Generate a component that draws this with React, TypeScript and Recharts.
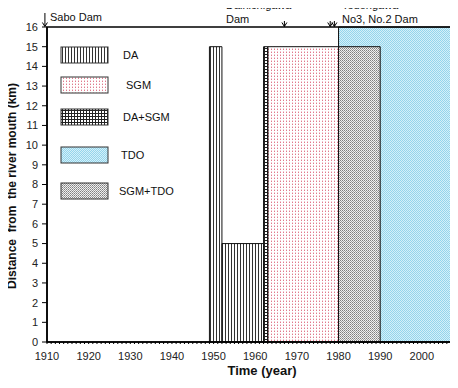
import {
  ComposedChart,
  XAxis,
  YAxis,
  ReferenceArea,
  ReferenceDot,
  Legend,
  Label,
} from "recharts";

// periods of each sediment-control measure along the river (drawn in this order)
const zoneNames = ["TDO", "SGM", "SGM+TDO", "DA", "DA", "DA+SGM"];
const zoneFrom = [1980, 1963, 1980, 1949, 1952, 1962];
const zoneTo = [2007, 1980, 1990, 1952, 1962, 1963];
const zoneReach = [16, 15, 15, 15, 5, 15];

const legendNames = ["DA", "SGM", "DA+SGM", "TDO", "SGM+TDO"];

const damLabels = [["Sabo Dam"], ["Dainichigawa", "Dam"], ["Tedorigawa", "No3, No.2 Dam"]];
const damYears = [[1909.5], [1967], [1978, 1979]];

const decadeTicks = [1910, 1920, 1930, 1940, 1950, 1960, 1970, 1980, 1990, 2000];
const distanceTicks = [0, 1, 2, 3, 4, 5, 6, 7, 8, 9, 10, 11, 12, 13, 14, 15, 16];
const yearTicks = Array.from({ length: 97 }, (_, i) => 1910 + i);

const FONT = "'Liberation Sans', Arial, sans-serif";

const PATTERN: Record<string, string> = {
  DA: "url(#pat-da)",
  SGM: "url(#pat-sgm)",
  "DA+SGM": "url(#pat-dasgm)",
  TDO: "url(#pat-tdo)",
  "SGM+TDO": "url(#pat-sgmtdo)",
};

// label placement for the dam annotations (page pixels)
const damLabelX = [50, 226, 342];
const damLabelBase = [20.5, 9, 9];
const damArrowLen = [14, 6, 6];

const legendRowY = [12, 42, 74, 112, 148];
const legendTextX = [73, 76, 73, 71, 69];

function Patterns() {
  return (
    <svg width={0} height={0} style={{ position: "absolute" }}>
      <defs>
        <pattern id="pat-da" width={3} height={3} patternUnits="userSpaceOnUse">
          <rect width={3} height={3} fill="#fff" />
          <rect x={0} width={1} height={3} fill="#333" />
        </pattern>
        <pattern id="pat-sgm" width={3} height={3} patternUnits="userSpaceOnUse">
          <rect width={3} height={3} fill="#fff" />
          <rect x={1} y={1} width={1} height={1} fill="#e07a8c" />
          <rect x={1} y={0} width={1} height={1} fill="#f3c8d0" />
        </pattern>
        <pattern id="pat-dasgm" width={3} height={3} patternUnits="userSpaceOnUse">
          <rect width={3} height={3} fill="#fff" />
          <rect x={0} width={1} height={3} fill="#222" />
          <rect y={0} width={3} height={1} fill="#222" />
        </pattern>
        <pattern id="pat-tdo" width={2} height={2} patternUnits="userSpaceOnUse">
          <rect width={2} height={2} fill="#d4f0f9" />
          <rect x={0} y={0} width={1} height={1} fill="#94d5ec" />
          <rect x={1} y={1} width={1} height={1} fill="#94d5ec" />
        </pattern>
        <pattern id="pat-sgmtdo" width={2} height={2} patternUnits="userSpaceOnUse">
          <rect width={2} height={2} fill="#f0f0f0" />
          <rect x={0} y={0} width={1} height={1} fill="#808080" />
          <rect x={1} y={1} width={1} height={1} fill="#a0a0a0" />
        </pattern>
      </defs>
    </svg>
  );
}

const XTick = (props: any) => {
  const { x, y, payload } = props;
  if (!decadeTicks.includes(payload.value)) return <g />;
  return (
    <text x={x} y={y} dy="0.71em" textAnchor="middle" fontSize={11} fill="#222" fontFamily={FONT}>
      {payload.value}
    </text>
  );
};

const LegendBox = () => (
  <svg width={130} height={175}>
    {legendNames.map((name, i) => (
      <g key={name}>
        <rect x={11} y={legendRowY[i]} width={47} height={16} fill={PATTERN[name]} stroke="#333" strokeWidth={1} />
        <text x={legendTextX[i]} y={legendRowY[i] + 12} fontSize={11} fill="#111" fontFamily={FONT}>
          {name}
        </text>
      </g>
    ))}
  </svg>
);

export default function App() {
  const chartData = zoneFrom.map((f, i) => ({ year: f, reach: zoneReach[i] }));

  return (
    <div style={{ marginTop: -8, marginLeft: -8, position: "relative" }}>
      <Patterns />
      <ComposedChart
        width={458}
        height={388}
        data={chartData}
        margin={{ top: 27, right: 7, bottom: 16, left: 7 }}
        style={{ fontFamily: FONT, overflow: "visible" }}
      >
        <XAxis
          dataKey="year"
          type="number"
          domain={[1910, 2007]}
          ticks={yearTicks}
          interval={0}
          tick={<XTick />}
          tickSize={2}
          tickMargin={8}
          height={30}
          axisLine={{ stroke: "#000", strokeWidth: 1.5 }}
          tickLine={{ stroke: "#000" }}
          allowDataOverflow
        >
          <Label
            value="Time (year)"
            content={() => (
              <text x={262} y={375} textAnchor="middle" fontSize={13} fontWeight="bold" fill="#111" fontFamily={FONT}>
                Time (year)
              </text>
            )}
          />
        </XAxis>
        <YAxis
          type="number"
          domain={[0, 16]}
          ticks={distanceTicks}
          interval={0}
          width={40}
          tickSize={5}
          tickMargin={4}
          tick={{ fontSize: 11, fill: "#222", fontFamily: FONT }}
          axisLine={{ stroke: "#000", strokeWidth: 1.5 }}
          tickLine={{ stroke: "#000" }}
          allowDataOverflow
        >
          <Label
            value="Distance from the river mouth (km)"
            content={() => (
              <text
                x={12}
                y={186}
                transform="rotate(-90, 12, 186)"
                textAnchor="middle"
                dominantBaseline="central"
                fontSize={12}
                fontWeight="bold"
                fill="#111"
                fontFamily={FONT}
                style={{ whiteSpace: "pre" }}
              >
                {"Distance  from  the river mouth (km)"}
              </text>
            )}
          />
        </YAxis>

        {zoneNames.map((name, i) => (
          <ReferenceArea
            key={`zone-${i}`}
            x1={zoneFrom[i]}
            x2={zoneTo[i]}
            y1={0}
            y2={zoneReach[i]}
            fill={PATTERN[name]}
            fillOpacity={1}
            stroke="#111"
            strokeWidth={1}
            ifOverflow="visible"
          />
        ))}

        {/* plot frame */}
        <ReferenceArea x1={1910} x2={2007} y1={0} y2={16} fill="none" stroke="#000" strokeWidth={1.5} />

        {damYears.map((years, g) =>
          years.map((yr, k) => (
            <ReferenceDot
              key={`arrow-${g}-${k}`}
              x={yr}
              y={16}
              ifOverflow="visible"
              shape={(p: any) => (
                <g stroke="#000" strokeWidth={1} fill="none">
                  <line x1={p.cx} y1={p.cy - damArrowLen[g]} x2={p.cx} y2={p.cy - 0.5} />
                  <path d={`M${p.cx - 2.5} ${p.cy - 4.5} L${p.cx} ${p.cy - 0.5} L${p.cx + 2.5} ${p.cy - 4.5}`} />
                </g>
              )}
            />
          ))
        )}

        <Legend
          layout="vertical"
          align="center"
          verticalAlign="middle"
          wrapperStyle={{ top: 35, left: 50, width: 130, height: 175 }}
          content={() => <LegendBox />}
        />
      </ComposedChart>
      {/* dam names above the plot frame */}
      <svg width={458} height={30} style={{ position: "absolute", left: 0, top: 0, overflow: "visible" }}>
        {damLabels.map((lines, g) => (
          <text key={g} fontSize={11} fill="#111" fontFamily={FONT}>
            {lines.map((ln, j) => (
              <tspan key={j} x={damLabelX[g]} y={damLabelBase[g] + j * 13.5}>
                {ln}
              </tspan>
            ))}
          </text>
        ))}
      </svg>
    </div>
  );
}
